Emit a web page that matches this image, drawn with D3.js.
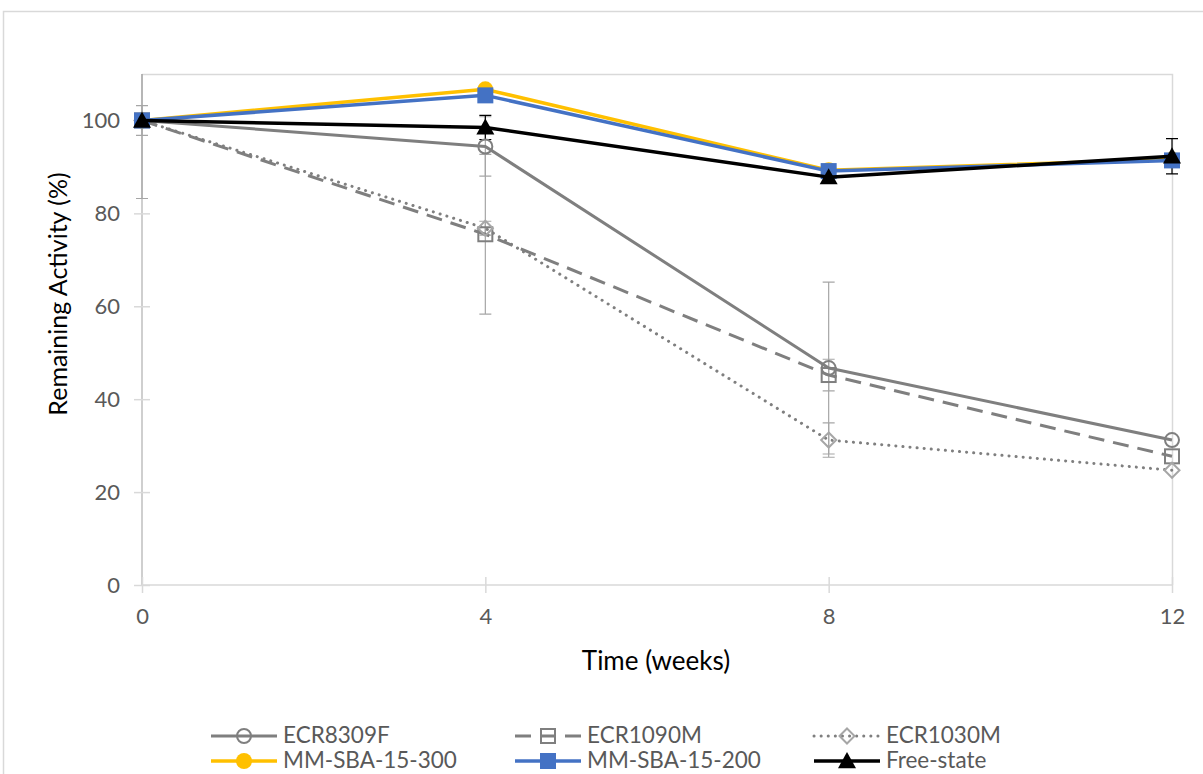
<!DOCTYPE html>
<html>
<head>
<meta charset="utf-8">
<script src="https://d3js.org/d3.v7.min.js"></script>
<style>
  body { margin: 0; background: #fff; }
  text { font-family: Lato, "Open Sans", sans-serif; }
</style>
</head>
<body>
<svg id="chart" width="1203" height="774"></svg>
<script>
// data
const weeks = [0, 4, 8, 12];
const yTicks = [0, 20, 40, 60, 80, 100];
const names = ["ECR8309F", "ECR1090M", "ECR1030M", "MM-SBA-15-300", "MM-SBA-15-200", "Free-state"];

const ecr8309f = [100, 94.4, 46.7, 31.2];
const ecr1090m = [100, 75.5, 45.2, 27.7];
const ecr1030m = [100, 76.8, 31.2, 24.7];
const sba300 = [100, 106.7, 89.3, 91.6];
const sba200 = [100, 105.4, 89.1, 91.4];
const freeState = [100, 98.5, 87.8, 92.3];

const ecr8309fErr = [3.2, 6.4, 18.5, 0];
const ecr1090mErr = [16.8, 17.2, 3.4, 0];
const ecr1030mErr = [0, 1.5, 3.7, 0];
const sba300Err = [0, 0, 0, 0];
const sba200Err = [0, 0, 0, 0];
const freeStateErr = [1, 2.6, 1, 3.8];

const series = [
  {name: names[0], values: ecr8309f, err: ecr8309fErr, color: "#7f7f7f", width: 3, dash: null, marker: "circleOpen", mColor: "#7f7f7f", errColor: "#a6a6a6"},
  {name: names[1], values: ecr1090m, err: ecr1090mErr, color: "#7f7f7f", width: 3, dash: "16,9", marker: "squareOpen", mColor: "#7f7f7f", errColor: "#a6a6a6"},
  {name: names[2], values: ecr1030m, err: ecr1030mErr, color: "#7f7f7f", width: 3, dash: "0.1,7", cap: "round", marker: "diamondOpen", mColor: "#a6a6a6", errColor: "#a6a6a6"},
  {name: names[3], values: sba300, err: sba300Err, color: "#ffc000", width: 3.5, dash: null, marker: "circle", mColor: "#ffc000", errColor: "#ffc000"},
  {name: names[4], values: sba200, err: sba200Err, color: "#4472c4", width: 3.5, dash: null, marker: "square", mColor: "#4472c4", errColor: "#4472c4"},
  {name: names[5], values: freeState, err: freeStateErr, color: "#000000", width: 3.5, dash: null, marker: "triangle", mColor: "#000000", errColor: "#000000"}
];

const svg = d3.select("#chart");
const plot = {left: 142, right: 1172, top: 74, bottom: 585};

const x = d3.scaleLinear([0, 12], [plot.left, plot.right]);
const y = d3.scaleLinear([0, 110], [plot.bottom, plot.top]);

// outer chart border
svg.append("rect")
  .attr("x", 3.5).attr("y", 11.5)
  .attr("width", 1220).attr("height", 800)
  .attr("fill", "none").attr("stroke", "#d9d9d9").attr("stroke-width", 1.5);

// plot area border (top & right)
svg.append("path")
  .attr("d", `M${plot.left},${plot.top + 0.5}H${plot.right + 0.5}V${plot.bottom}`)
  .attr("fill", "none").attr("stroke", "#d9d9d9").attr("stroke-width", 1.5);

svg.append("clipPath").attr("id", "clip")
  .append("rect")
  .attr("x", plot.left - 20).attr("y", plot.top)
  .attr("width", plot.right - plot.left + 40).attr("height", plot.bottom - plot.top);

// y axis
const yAxis = svg.append("g")
  .attr("transform", `translate(${plot.left},0)`)
  .call(d3.axisLeft(y).tickValues(yTicks).tickSize(8).tickPadding(14));
yAxis.select(".domain").attr("d", `M0,${plot.top}V${plot.bottom}`).attr("stroke", "#bfbfbf").attr("stroke-width", 1.5);
yAxis.selectAll(".tick line").attr("x1", 8).attr("x2", -8).attr("stroke", "#d9d9d9").attr("stroke-width", 1.5);
yAxis.selectAll(".tick text").attr("font-size", 22).attr("fill", "#595959");

// x axis
const xAxis = svg.append("g")
  .attr("transform", `translate(0,${plot.bottom})`)
  .call(d3.axisBottom(x).tickValues(weeks).tickSize(8).tickPadding(15));
xAxis.select(".domain").attr("d", `M${plot.left},0H${plot.right}`).attr("stroke", "#d9d9d9").attr("stroke-width", 1.5);
xAxis.selectAll(".tick line").attr("y1", -8).attr("y2", 8).attr("stroke", "#d9d9d9").attr("stroke-width", 1.5);
xAxis.selectAll(".tick text").attr("font-size", 22).attr("fill", "#595959");

// axis titles
svg.append("text")
  .attr("x", 656).attr("y", 670)
  .attr("text-anchor", "middle").attr("font-size", 26).attr("fill", "#000")
  .text("Time (weeks)");
svg.append("text")
  .attr("transform", "translate(67,294) rotate(-90)")
  .attr("text-anchor", "middle").attr("font-size", 25).attr("fill", "#000")
  .text("Remaining Activity (%)");

// error bars
const errG = svg.append("g").attr("clip-path", "url(#clip)");
series.forEach(s => {
  const pts = weeks.map((w, i) => ({w, v: s.values[i], e: s.err[i]})).filter(d => d.e > 0);
  const g = errG.append("g").attr("stroke", s.errColor).attr("stroke-width", 1.2).attr("fill", "none");
  g.selectAll("path").data(pts).join("path")
    .attr("d", d => {
      const cx = x(d.w), y1 = y(d.v + d.e), y2 = y(d.v - d.e);
      return `M${cx},${y1}V${y2}M${cx - 6},${y1}H${cx + 6}M${cx - 6},${y2}H${cx + 6}`;
    });
});

function drawMarker(g, type, color, cx, cy, scale) {
  const k = scale || 1;
  if (type === "circleOpen") {
    g.append("circle").attr("cx", cx).attr("cy", cy).attr("r", 7 * k)
      .attr("fill", "none").attr("stroke", color).attr("stroke-width", 2);
  } else if (type === "squareOpen") {
    g.append("rect").attr("x", cx - 7 * k).attr("y", cy - 7 * k).attr("width", 14 * k).attr("height", 14 * k)
      .attr("fill", "none").attr("stroke", color).attr("stroke-width", 2);
  } else if (type === "diamondOpen") {
    const r = 7.5 * k;
    g.append("path").attr("d", `M${cx},${cy - r}L${cx + r},${cy}L${cx},${cy + r}L${cx - r},${cy}Z`)
      .attr("fill", "none").attr("stroke", color).attr("stroke-width", 2);
  } else if (type === "circle") {
    g.append("circle").attr("cx", cx).attr("cy", cy).attr("r", 8 * k).attr("fill", color);
  } else if (type === "square") {
    g.append("rect").attr("x", cx - 8 * k).attr("y", cy - 8 * k).attr("width", 16 * k).attr("height", 16 * k).attr("fill", color);
  } else if (type === "triangle") {
    const r = 9 * k;
    g.append("path").attr("d", `M${cx},${cy - r}L${cx + r},${cy + r * 0.8}L${cx - r},${cy + r * 0.8}Z`).attr("fill", color);
  }
}

// lines and markers
const line = d3.line().x((d, i) => x(weeks[i])).y(d => y(d));
series.forEach(s => {
  const g = svg.append("g");
  g.append("path")
    .attr("d", line(s.values))
    .attr("fill", "none")
    .attr("stroke", s.color)
    .attr("stroke-width", s.width)
    .attr("stroke-linejoin", "round")
    .attr("stroke-linecap", s.cap || "butt")
    .attr("stroke-dasharray", s.dash);
  s.values.forEach((v, i) => drawMarker(g, s.marker, s.mColor, x(weeks[i]), y(v)));
});

// legend
const legendText = [283, 587, 886];
const legendRows = [736, 761];
series.forEach((s, i) => {
  const col = i % 3, row = Math.floor(i / 3);
  const g = svg.append("g");
  const x1 = legendText[col] - 6, x0 = x1 - 66, ly = legendRows[row];
  g.append("path")
    .attr("d", `M${x0},${ly}H${x1}`)
    .attr("stroke", s.color).attr("stroke-width", s.width)
    .attr("stroke-linecap", s.cap || "butt")
    .attr("stroke-dasharray", s.dash);
  drawMarker(g, s.marker, s.mColor, (x0 + x1) / 2, ly, 1);
  g.append("text")
    .attr("x", legendText[col]).attr("y", ly + 7)
    .attr("font-size", 22.5).attr("fill", "#595959")
    .text(s.name);
});
</script>
</body>
</html>
